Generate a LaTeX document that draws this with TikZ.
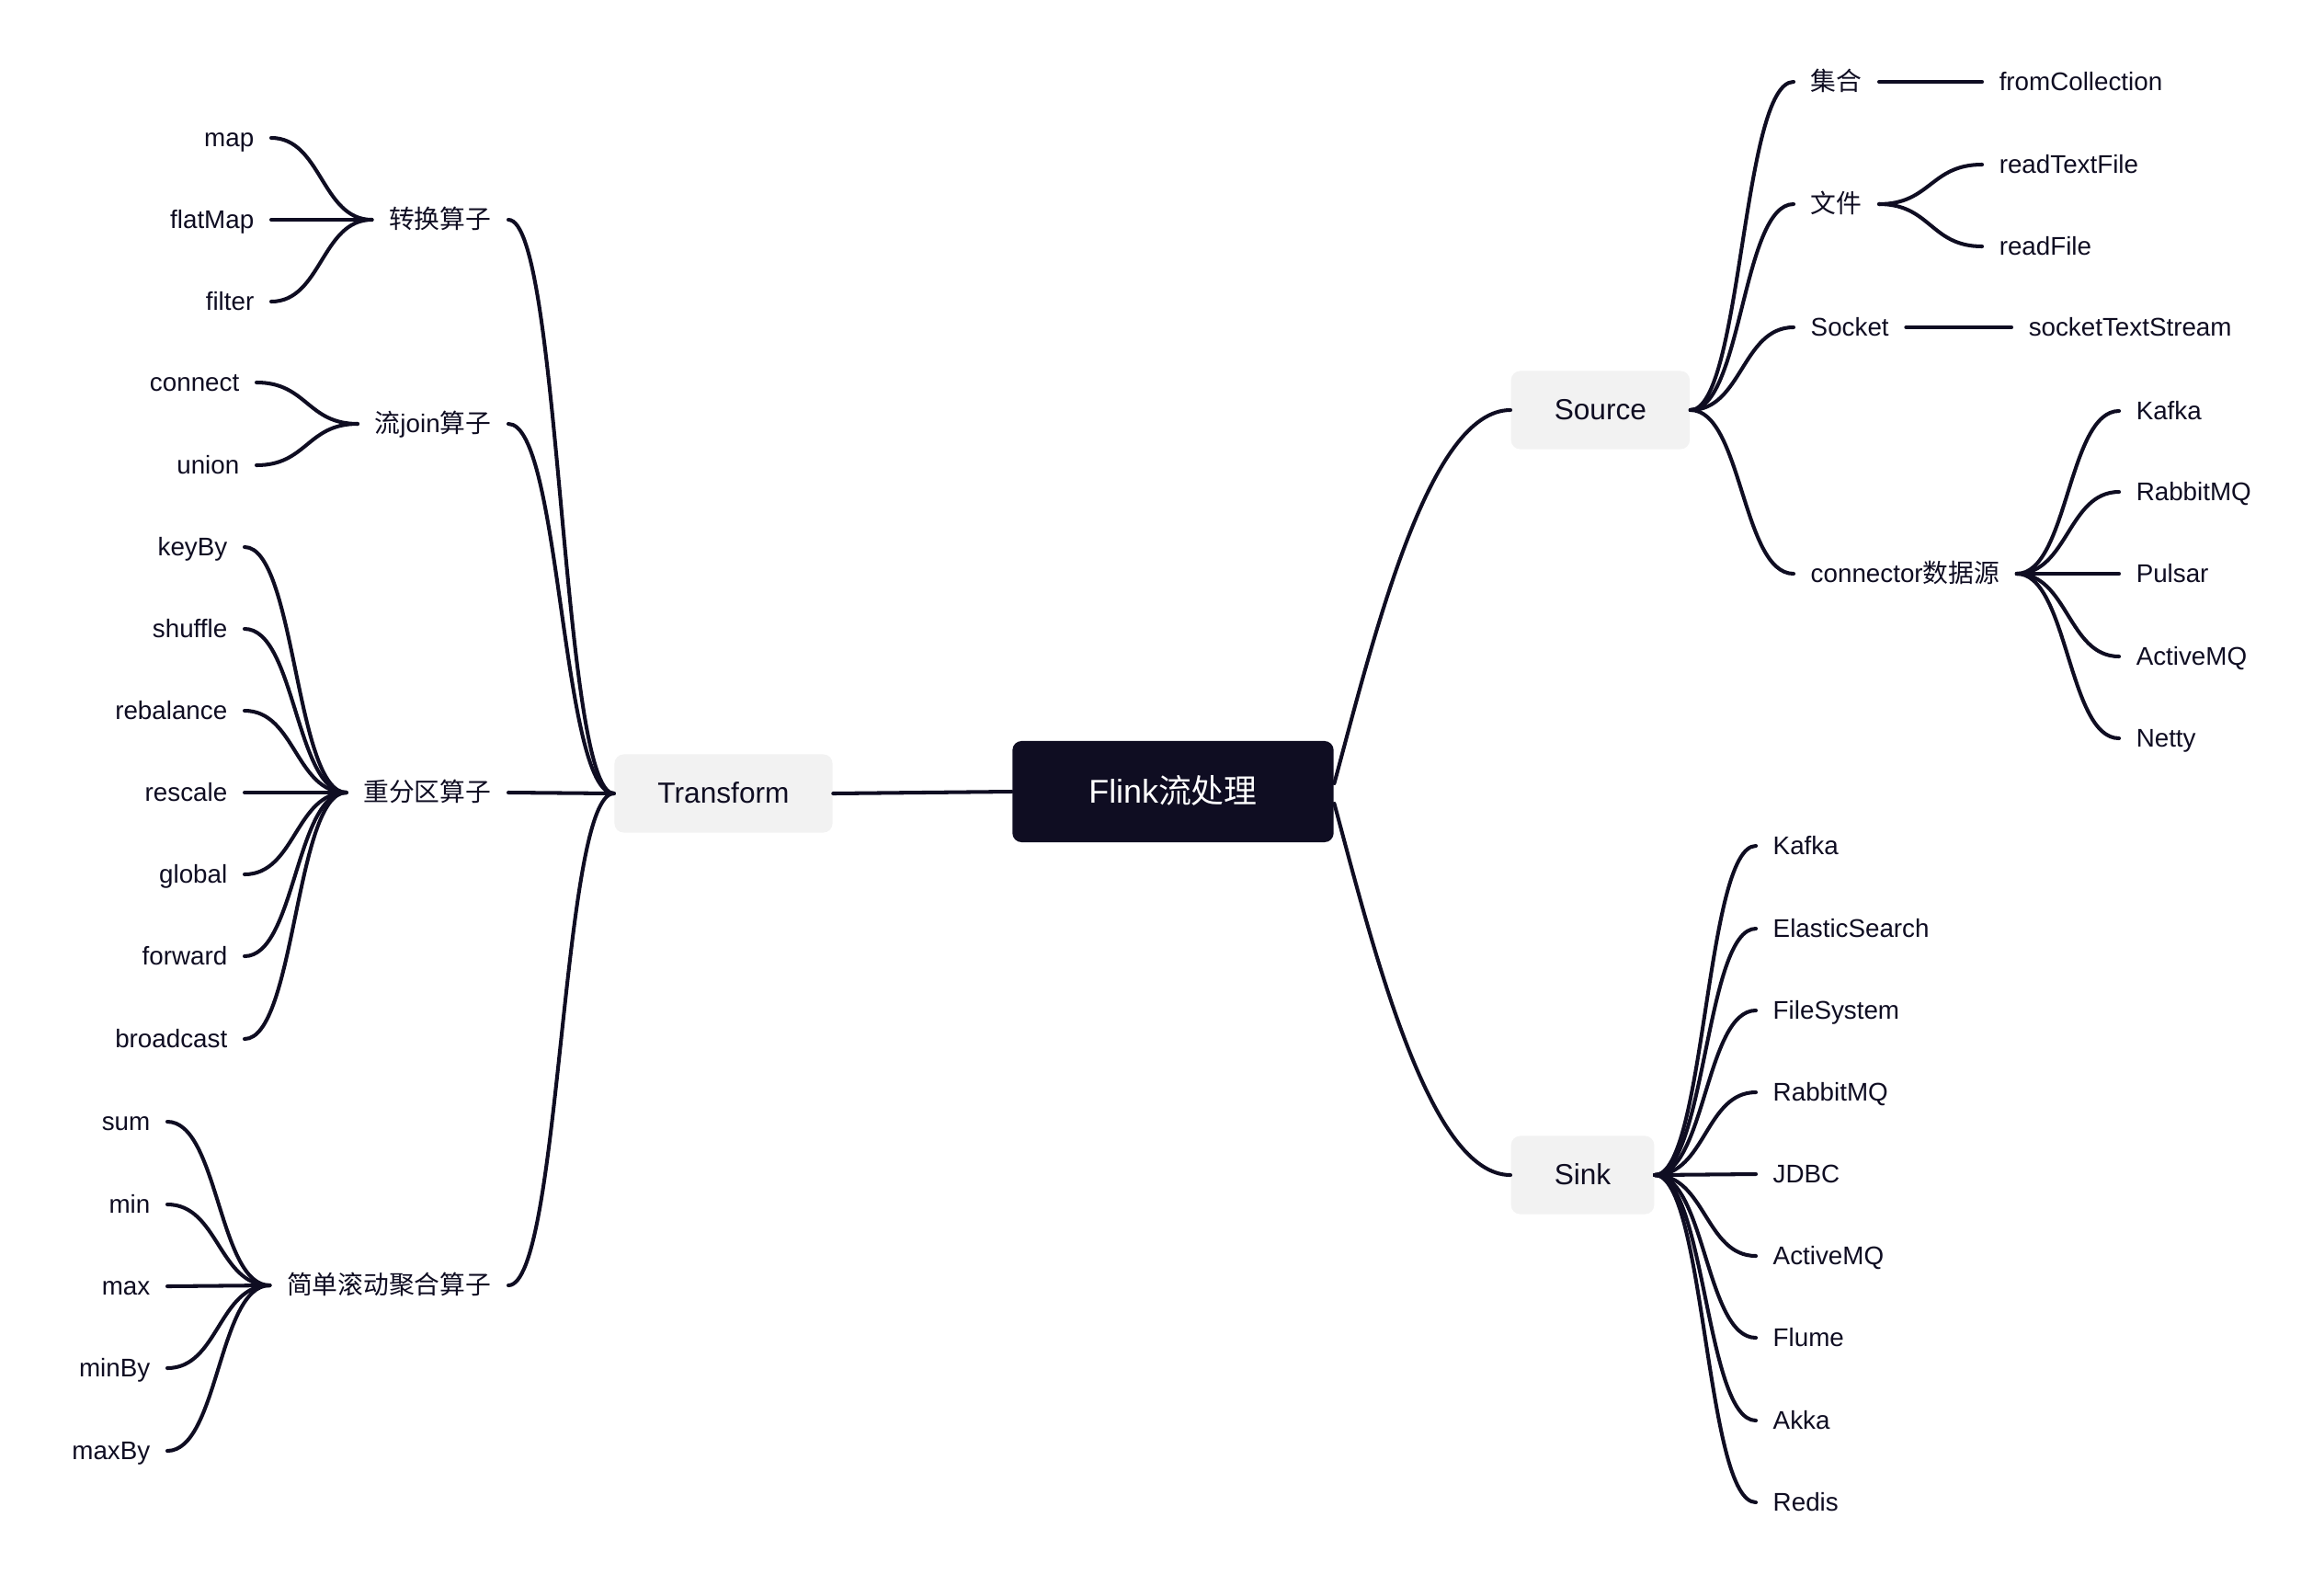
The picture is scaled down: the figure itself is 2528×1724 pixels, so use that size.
\documentclass[tikz,border=0pt]{standalone}
\usepackage{fontspec}
\setmainfont{Liberation Sans}
\newfontfamily\cjk{Noto Sans CJK SC}
\usepackage{tikz}
\usetikzlibrary{calc}

\definecolor{ink}{RGB}{15,13,34}
\definecolor{pale}{RGB}{242,242,242}
\newcommand{\zh}[1]{{\cjk #1}}

\tikzset{
  leaf/.style={text=ink, font=\fontsize{7.9}{9.5}\selectfont, inner xsep=0.18cm, inner ysep=0pt, text height=7.1pt, text depth=1.7pt},
  topic/.style={fill=pale, text=ink, rounded corners=0.1cm, font=\fontsize{9}{11}\selectfont, inner xsep=0.47cm, minimum height=0.85cm, text height=8.1pt, text depth=1.9pt},
  rootbox/.style={fill=ink, text=white, rounded corners=0.1cm, font=\fontsize{10.2}{12}\selectfont, inner xsep=0.83cm, minimum height=1.1cm, text height=9.2pt, text depth=2.2pt},
  link/.style={draw=ink, line width=1.15pt, line cap=round},
  branch/.style={to path={.. controls ($(\tikztostart)!0.5!(\tikztostart -| \tikztotarget)$) and ($(\tikztotarget)!0.5!(\tikztotarget -| \tikztostart)$) .. (\tikztotarget)}}
}

\begin{document}
\begin{tikzpicture}[x=0.01cm,y=-0.01cm]
\fill[white] (0,0) rectangle (2528,1724);
\useasboundingbox (0,0) rectangle (2528,1724);

\node[rootbox] (root) at (1276,861) {Flink\zh{流处理}};
\node[topic] (tf) at (787,863) {Transform};
\node[topic, anchor=west] (src) at (1643,446) {Source};
\node[topic, anchor=west] (snk) at (1643,1278) {Sink};

\node[leaf, anchor=west] (jihe) at (1951,89) {\zh{集合}};
\node[leaf, anchor=west] (wenjian) at (1951,222) {\zh{文件}};
\node[leaf, anchor=west] (sock) at (1951,356) {Socket};
\node[leaf, anchor=west] (conn) at (1951,624) {connector\zh{数据源}};
\node[leaf, anchor=west] (fromColl) at (2156,89) {fromCollection};
\node[leaf, anchor=west] (readText) at (2156,179) {readTextFile};
\node[leaf, anchor=west] (readFile) at (2156,268) {readFile};
\node[leaf, anchor=west] (sockStream) at (2188,356) {socketTextStream};
\node[leaf, anchor=west] (cKafka) at (2305,447) {Kafka};
\node[leaf, anchor=west] (cRabbit) at (2305,535) {RabbitMQ};
\node[leaf, anchor=west] (cPulsar) at (2305,624) {Pulsar};
\node[leaf, anchor=west] (cActive) at (2305,714) {ActiveMQ};
\node[leaf, anchor=west] (cNetty) at (2305,803) {Netty};

\node[leaf, anchor=west] (sKafka) at (1910,920) {Kafka};
\node[leaf, anchor=west] (sElastic) at (1910,1010) {ElasticSearch};
\node[leaf, anchor=west] (sFileSys) at (1910,1099) {FileSystem};
\node[leaf, anchor=west] (sRabbit) at (1910,1188) {RabbitMQ};
\node[leaf, anchor=west] (sJdbc) at (1910,1277) {JDBC};
\node[leaf, anchor=west] (sActive) at (1910,1366) {ActiveMQ};
\node[leaf, anchor=west] (sFlume) at (1910,1455) {Flume};
\node[leaf, anchor=west] (sAkka) at (1910,1545) {Akka};
\node[leaf, anchor=west] (sRedis) at (1910,1634) {Redis};

\node[leaf, anchor=east] (zhuan) at (553,239) {\zh{转换算子}};
\node[leaf, anchor=east] (join) at (553,461) {\zh{流}join\zh{算子}};
\node[leaf, anchor=east] (fenqu) at (553,862) {\zh{重分区算子}};
\node[leaf, anchor=east] (juhe) at (553,1398) {\zh{简单滚动聚合算子}};
\node[leaf, anchor=east] (map) at (295,150) {map};
\node[leaf, anchor=east] (flatMap) at (295,239) {flatMap};
\node[leaf, anchor=east] (filter) at (295,328) {filter};
\node[leaf, anchor=east] (connect) at (279,416) {connect};
\node[leaf, anchor=east] (union) at (279,506) {union};
\node[leaf, anchor=east] (keyBy) at (266,595) {keyBy};
\node[leaf, anchor=east] (shuffle) at (266,684) {shuffle};
\node[leaf, anchor=east] (rebalance) at (266,773) {rebalance};
\node[leaf, anchor=east] (rescale) at (266,862) {rescale};
\node[leaf, anchor=east] (global) at (266,951) {global};
\node[leaf, anchor=east] (forward) at (266,1040) {forward};
\node[leaf, anchor=east] (broadcast) at (266,1130) {broadcast};
\node[leaf, anchor=east] (sum) at (182,1220) {sum};
\node[leaf, anchor=east] (min) at (182,1310) {min};
\node[leaf, anchor=east] (max) at (182,1399) {max};
\node[leaf, anchor=east] (minBy) at (182,1488) {minBy};
\node[leaf, anchor=east] (maxBy) at (182,1578) {maxBy};

\draw[link] (tf.east) -- (root.west);
\draw[link] ([yshift=0.09cm]root.east) to[out=75,in=180,in looseness=0.5] (src.west);
\draw[link] ([yshift=-0.13cm]root.east) to[out=-75,in=180,in looseness=0.5] (snk.west);

\draw[link] (src.east) to[branch] (jihe.west);
\draw[link] (src.east) to[branch] (wenjian.west);
\draw[link] (src.east) to[branch] (sock.west);
\draw[link] (src.east) to[branch] (conn.west);
\draw[link] (jihe.east) -- (fromColl.west);
\draw[link] (wenjian.east) to[branch] (readText.west);
\draw[link] (wenjian.east) to[branch] (readFile.west);
\draw[link] (sock.east) -- (sockStream.west);
\draw[link] (conn.east) to[branch] (cKafka.west);
\draw[link] (conn.east) to[branch] (cRabbit.west);
\draw[link] (conn.east) to[branch] (cPulsar.west);
\draw[link] (conn.east) to[branch] (cActive.west);
\draw[link] (conn.east) to[branch] (cNetty.west);

\draw[link] (snk.east) to[branch] (sKafka.west);
\draw[link] (snk.east) to[branch] (sElastic.west);
\draw[link] (snk.east) to[branch] (sFileSys.west);
\draw[link] (snk.east) to[branch] (sRabbit.west);
\draw[link] (snk.east) to[branch] (sJdbc.west);
\draw[link] (snk.east) to[branch] (sActive.west);
\draw[link] (snk.east) to[branch] (sFlume.west);
\draw[link] (snk.east) to[branch] (sAkka.west);
\draw[link] (snk.east) to[branch] (sRedis.west);

\draw[link] (zhuan.east) to[branch] (tf.west);
\draw[link] (join.east) to[branch] (tf.west);
\draw[link] (fenqu.east) to[branch] (tf.west);
\draw[link] (juhe.east) to[branch] (tf.west);
\draw[link] (map.east) to[branch] (zhuan.west);
\draw[link] (flatMap.east) to[branch] (zhuan.west);
\draw[link] (filter.east) to[branch] (zhuan.west);
\draw[link] (connect.east) to[branch] (join.west);
\draw[link] (union.east) to[branch] (join.west);
\draw[link] (keyBy.east) to[branch] (fenqu.west);
\draw[link] (shuffle.east) to[branch] (fenqu.west);
\draw[link] (rebalance.east) to[branch] (fenqu.west);
\draw[link] (rescale.east) to[branch] (fenqu.west);
\draw[link] (global.east) to[branch] (fenqu.west);
\draw[link] (forward.east) to[branch] (fenqu.west);
\draw[link] (broadcast.east) to[branch] (fenqu.west);
\draw[link] (sum.east) to[branch] (juhe.west);
\draw[link] (min.east) to[branch] (juhe.west);
\draw[link] (max.east) to[branch] (juhe.west);
\draw[link] (minBy.east) to[branch] (juhe.west);
\draw[link] (maxBy.east) to[branch] (juhe.west);
\end{tikzpicture}
\end{document}
